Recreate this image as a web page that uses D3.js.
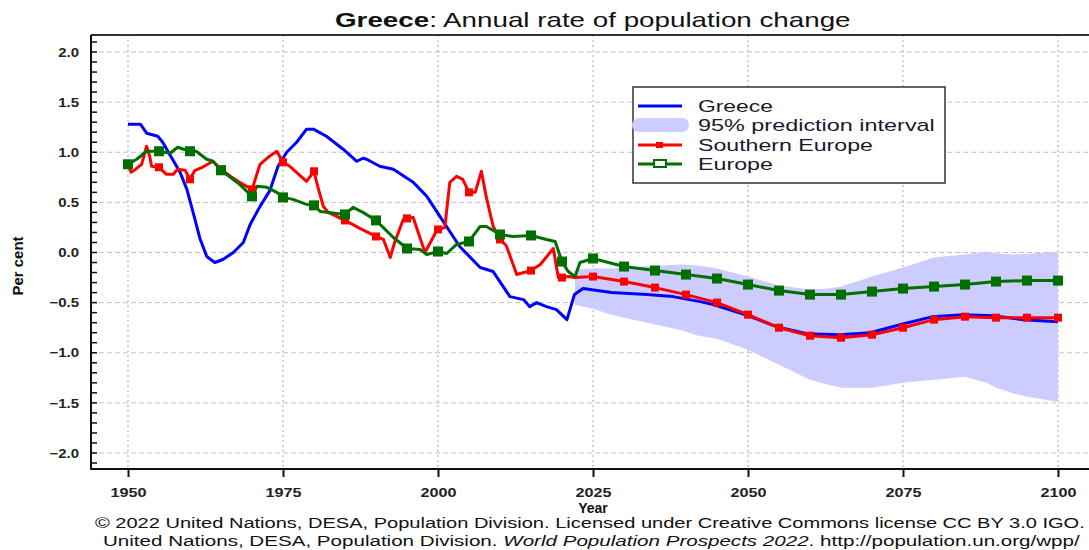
<!DOCTYPE html>
<html>
<head>
<meta charset="utf-8">
<script src="https://cdn.jsdelivr.net/npm/d3@7"></script>
<style>
  html, body { margin: 0; padding: 0; background: #fff; }
  svg { display: block; }
  text { font-family: "Liberation Sans", Arial, sans-serif; }
</style>
</head>
<body>
<svg id="chart" width="1089" height="550"></svg>
<script>
// ---------- data ----------
const xTickYears = [1950, 1975, 2000, 2025, 2050, 2075, 2100];
const yTickValues = [-2.0, -1.5, -1.0, -0.5, 0.0, 0.5, 1.0, 1.5, 2.0];

const greece = [
  [1950,1.28],[1952,1.28],[1953,1.19],[1954.8,1.16],[1955.6,1.10],[1956.8,0.97],[1958.4,0.80],
  [1959.5,0.63],[1960.5,0.40],[1961.6,0.14],[1962.7,-0.04],[1964,-0.10],[1965.3,-0.07],[1967,0.00],
  [1968.6,0.10],[1969.7,0.28],[1971.3,0.46],[1972.9,0.62],[1974.2,0.86],[1975.6,1.00],[1977.2,1.10],
  [1978.8,1.23],[1979.9,1.23],[1982,1.16],[1984.7,1.03],[1986.9,0.91],[1987.9,0.94],[1988.5,0.93],
  [1990.6,0.86],[1992.8,0.83],[1996,0.70],[1998.2,0.56],[2000.3,0.36],[2003.5,0.06],[2006.8,-0.15],
  [2008.9,-0.19],[2011.6,-0.44],[2013.8,-0.47],[2014.8,-0.54],[2015.9,-0.50],[2017.5,-0.54],
  [2019.1,-0.57],[2020.8,-0.67],[2022,-0.42],[2023.4,-0.36],[2028,-0.40],[2033.7,-0.42],
  [2037.9,-0.44],[2042.3,-0.49],[2044.4,-0.52],[2050,-0.63],[2054.6,-0.74],[2059.5,-0.81],
  [2064.8,-0.82],[2069.7,-0.80],[2074.5,-0.72],[2079.8,-0.64],[2084.7,-0.62],[2089.5,-0.63],
  [2094.4,-0.67],[2100,-0.69]
];

const southernEurope = [
  [1950,0.88],[1950.5,0.80],[1951,0.82],[1952.2,0.88],[1953,1.06],[1953.5,0.96],[1953.8,0.86],
  [1955,0.85],[1956.2,0.78],[1957.3,0.78],[1958,0.83],[1959.2,0.82],[1960,0.73],[1960.8,0.82],
  [1962,0.85],[1963.7,0.91],[1965,0.83],[1966.5,0.76],[1968,0.70],[1970,0.63],[1971.3,0.88],
  [1972.6,0.95],[1974,1.01],[1975,0.90],[1976.1,0.86],[1978.8,0.71],[1980,0.81],[1980.6,0.66],
  [1981.5,0.46],[1982.3,0.40],[1985,0.32],[1987.4,0.24],[1990,0.16],[1991.2,0.13],[1992.3,-0.05],
  [1993,0.10],[1994.4,0.33],[1995,0.34],[1996,0.35],[1997.9,0.00],[1999.8,0.22],[2000,0.23],
  [2001.1,0.25],[2001.9,0.70],[2003,0.76],[2004,0.73],[2005,0.60],[2006,0.60],[2007,0.81],
  [2007.8,0.55],[2008.9,0.26],[2010,0.13],[2011,0.07],[2012.7,-0.22],[2015,-0.18],[2016.5,-0.12],
  [2018.6,0.04],[2019.4,-0.25],[2020,-0.25],[2021,-0.24],[2022.1,-0.25],[2025,-0.24],[2030,-0.29],
  [2035,-0.35],[2040,-0.42],[2045,-0.50],[2050,-0.62],[2055,-0.75],[2060,-0.83],[2065,-0.85],
  [2070,-0.82],[2075,-0.75],[2080,-0.67],[2085,-0.64],[2090,-0.65],[2095,-0.65],[2100,-0.65]
];

const europe = [
  [1950,0.88],[1951.4,0.93],[1953,1.01],[1955,1.01],[1956.8,0.99],[1958,1.05],[1960,1.01],
  [1961,1.01],[1962.7,0.93],[1963.7,0.91],[1965,0.82],[1966.5,0.75],[1968,0.68],[1970,0.56],
  [1970.8,0.66],[1972.4,0.65],[1974,0.60],[1975,0.55],[1976.6,0.53],[1978.8,0.48],[1980,0.47],
  [1981,0.41],[1985,0.38],[1986.3,0.45],[1987.9,0.40],[1990,0.32],[1992.8,0.15],[1995,0.04],
  [1997.1,0.03],[1998.2,-0.02],[2000,0.01],[2001.4,-0.01],[2003,0.08],[2005,0.11],[2006.8,0.26],
  [2007.8,0.26],[2010,0.18],[2012.1,0.16],[2015,0.17],[2017.5,0.13],[2018.9,0.11],[2020,-0.09],
  [2021,-0.19],[2022.1,-0.24],[2022.9,-0.10],[2025,-0.06],[2030,-0.14],[2035,-0.18],[2040,-0.22],
  [2045,-0.26],[2050,-0.32],[2055,-0.38],[2060,-0.42],[2065,-0.42],[2070,-0.39],[2075,-0.36],
  [2080,-0.34],[2085,-0.32],[2090,-0.29],[2095,-0.28],[2100,-0.28]
];

// 95% prediction interval: [year, lower, upper]
const interval = [
  [2022.1,-0.52,-0.17],[2025,-0.56,-0.16],[2028,-0.62,-0.16],[2033,-0.69,-0.14],[2039,-0.77,-0.12],
  [2042,-0.83,-0.13],[2045,-0.86,-0.16],[2050,-0.97,-0.24],[2055,-1.12,-0.33],[2060,-1.27,-0.37],
  [2063,-1.32,-0.36],[2065,-1.35,-0.34],[2070,-1.35,-0.24],[2075,-1.30,-0.15],[2080,-1.27,-0.05],
  [2085,-1.24,-0.02],[2088.5,-1.30,0.01],[2090,-1.35,-0.01],[2093,-1.41,-0.02],[2096,-1.45,-0.01],
  [2100,-1.49,0.01]
];

const legendItems = ["Greece", "95% prediction interval", "Southern Europe", "Europe"];
const titleBold = "Greece";
const titleRest = ": Annual rate of population change";
const footer1 = "\u00A9 2022 United Nations, DESA, Population Division. Licensed under Creative Commons license CC BY 3.0 IGO.";
const footer2a = "United Nations, DESA, Population Division. ";
const footer2b = "World Population Prospects 2022";
const footer2c = ". http://population.un.org/wpp/";

// ---------- layout ----------
const svg = d3.select("#chart");
const x = d3.scaleLinear().domain([1950, 2100]).range([128, 1058]);
const y = d3.scaleLinear().domain([-2, 2]).range([453, 52]);
const PL = 91, PR = 1096, PT = 35, PB = 469;

const BLUE = "#0000ff", RED = "#ff0000", GREEN = "#006f00", BAND = "#ccccff";

function fitWidth(sel, targetW, cx) {
  sel.each(function() {
    const w = this.getComputedTextLength();
    if (!w) return;
    const s = targetW / w;
    const ax = cx !== undefined ? cx : +d3.select(this).attr("x");
    d3.select(this).attr("transform", `translate(${ax},0) scale(${s},1) translate(${-ax},0)`);
  });
}

svg.append("defs").append("clipPath").attr("id", "plotclip")
  .append("rect").attr("x", PL).attr("y", PT).attr("width", PR - PL).attr("height", PB - PT);

// grid
const grid = svg.append("g");
grid.selectAll("line.h").data(yTickValues).enter().append("line")
  .attr("x1", PL).attr("x2", PR).attr("y1", d => y(d)).attr("y2", d => y(d))
  .attr("stroke", "#c4c4c4").attr("stroke-width", 1).attr("stroke-dasharray", "5,3");
grid.selectAll("line.v").data(xTickYears).enter().append("line")
  .attr("x1", d => x(d)).attr("x2", d => x(d)).attr("y1", PT).attr("y2", PB)
  .attr("stroke", "#c4c4c4").attr("stroke-width", 1.5).attr("stroke-dasharray", "2,3");

const plot = svg.append("g").attr("clip-path", "url(#plotclip)");

// band
plot.append("path").datum(interval)
  .attr("d", d3.area().x(d => x(d[0])).y0(d => y(d[1])).y1(d => y(d[2])))
  .attr("fill", BAND);

const line = d3.line().x(d => x(d[0])).y(d => y(d[1]));
plot.append("path").datum(greece).attr("d", line)
  .attr("fill", "none").attr("stroke", BLUE).attr("stroke-width", 3).attr("stroke-linejoin", "round");
plot.append("path").datum(southernEurope).attr("d", line)
  .attr("fill", "none").attr("stroke", RED).attr("stroke-width", 3).attr("stroke-linejoin", "round");
plot.append("path").datum(europe).attr("d", line)
  .attr("fill", "none").attr("stroke", GREEN).attr("stroke-width", 3).attr("stroke-linejoin", "round");

// markers at 5-year points
const isFive = d => Math.abs(d[0] % 5) < 1e-9;
plot.selectAll("rect.rm").data(southernEurope.filter(isFive)).enter().append("rect")
  .attr("x", d => x(d[0]) - 4).attr("y", d => y(d[1]) - 4).attr("width", 8).attr("height", 8)
  .attr("fill", RED);
plot.selectAll("rect.gm").data(europe.filter(isFive)).enter().append("rect")
  .attr("x", d => x(d[0]) - 5).attr("y", d => y(d[1]) - 5).attr("width", 10).attr("height", 10)
  .attr("fill", GREEN);

// frame
svg.append("line").attr("x1", PL).attr("x2", PR).attr("y1", PT).attr("y2", PT)
  .attr("stroke", "#333").attr("stroke-width", 2);
svg.append("line").attr("x1", PL).attr("x2", PR).attr("y1", PB).attr("y2", PB)
  .attr("stroke", "#111").attr("stroke-width", 2);
svg.append("line").attr("x1", PL).attr("x2", PL).attr("y1", PT).attr("y2", PB + 1)
  .attr("stroke", "#111").attr("stroke-width", 2);

// y axis: minor ticks inward, labels
const minor = d3.range(-21, 22).map(i => i / 10);
svg.selectAll("line.ym").data(minor).enter().append("line")
  .attr("x1", PL).attr("x2", PL + 6).attr("y1", d => y(d)).attr("y2", d => y(d))
  .attr("stroke", "#111").attr("stroke-width", 1.5);
const yAxis = d3.axisLeft(y).tickValues(yTickValues).tickSize(0).tickPadding(0).tickFormat(d3.format(".1f"));
const yg = svg.append("g").attr("transform", `translate(79,0)`).call(yAxis);
yg.select(".domain").remove();
yg.selectAll("text").attr("font-family", "Liberation Sans, Arial, sans-serif")
  .attr("font-size", 13).attr("font-weight", "bold").attr("fill", "#222")
  .attr("x", 0).attr("transform", "scale(1.15,1)");

// x axis
const xAxis = d3.axisBottom(x).tickValues(xTickYears).tickSize(8).tickPadding(10).tickFormat(d3.format("d"));
const xg = svg.append("g").attr("transform", `translate(0,${PB})`).call(xAxis);
xg.select(".domain").remove();
xg.selectAll("line").attr("stroke", "#111").attr("stroke-width", 2);
xg.selectAll("text").attr("font-family", "Liberation Sans, Arial, sans-serif")
  .attr("font-size", 13.5).attr("font-weight", "bold").attr("fill", "#222")
  .attr("transform", "scale(1.2,1)");

// axis titles
svg.append("text").attr("x", x(2025)).attr("y", 513).attr("text-anchor", "middle")
  .attr("font-family", "Liberation Sans Narrow, Liberation Sans, Arial")
  .attr("font-size", 14).attr("font-weight", "bold").attr("fill", "#111").text("Year");
svg.append("text").attr("transform", "translate(23,266) rotate(-90)").attr("text-anchor", "middle")
  .attr("font-family", "Liberation Sans Narrow, Liberation Sans, Arial")
  .attr("font-size", 15).attr("font-weight", "bold").attr("fill", "#111").text("Per cent");

// title
const title = svg.append("text").attr("x", 335).attr("y", 27).attr("font-size", 20).attr("fill", "#111");
title.append("tspan").attr("font-weight", "bold").text(titleBold);
title.append("tspan").text(titleRest);
fitWidth(title, 516, 335);

// legend
const lg = svg.append("g");
lg.append("rect").attr("x", 633).attr("y", 87).attr("width", 312).attr("height", 96)
  .attr("fill", "#fff").attr("stroke", "#333").attr("stroke-width", 1.5);
const ly = [106, 125, 145, 164];
const lw = [75, 237, 175, 75];
lg.append("line").attr("x1", 638).attr("x2", 682).attr("y1", ly[0]).attr("y2", ly[0])
  .attr("stroke", BLUE).attr("stroke-width", 3);
lg.append("rect").attr("x", 632).attr("y", ly[1] - 7).attr("width", 57).attr("height", 14).attr("rx", 7)
  .attr("fill", BAND);
lg.append("line").attr("x1", 638).attr("x2", 682).attr("y1", ly[2]).attr("y2", ly[2])
  .attr("stroke", RED).attr("stroke-width", 3);
lg.append("rect").attr("x", 656).attr("y", ly[2] - 3).attr("width", 7).attr("height", 6).attr("fill", RED);
lg.append("line").attr("x1", 638).attr("x2", 682).attr("y1", ly[3]).attr("y2", ly[3])
  .attr("stroke", GREEN).attr("stroke-width", 3);
lg.append("rect").attr("x", 654).attr("y", ly[3] - 4).attr("width", 12).attr("height", 7)
  .attr("fill", "#fff").attr("stroke", GREEN).attr("stroke-width", 2);
legendItems.forEach((t, i) => {
  const tx = lg.append("text").attr("x", 698).attr("y", ly[i] + 6).attr("font-size", 17)
    .attr("fill", "#1a1a2e").text(t);
  fitWidth(tx, lw[i], 698);
});

// footer
const f1 = svg.append("text").attr("x", 95).attr("y", 528).attr("font-size", 15).attr("fill", "#111").text(footer1);
fitWidth(f1, 991, 95);
const f2 = svg.append("text").attr("x", 103).attr("y", 546).attr("font-size", 14.5).attr("fill", "#111");
f2.append("tspan").text(footer2a);
f2.append("tspan").attr("font-style", "italic").text(footer2b);
f2.append("tspan").text(footer2c);
fitWidth(f2, 977, 103);
</script>
</body>
</html>
